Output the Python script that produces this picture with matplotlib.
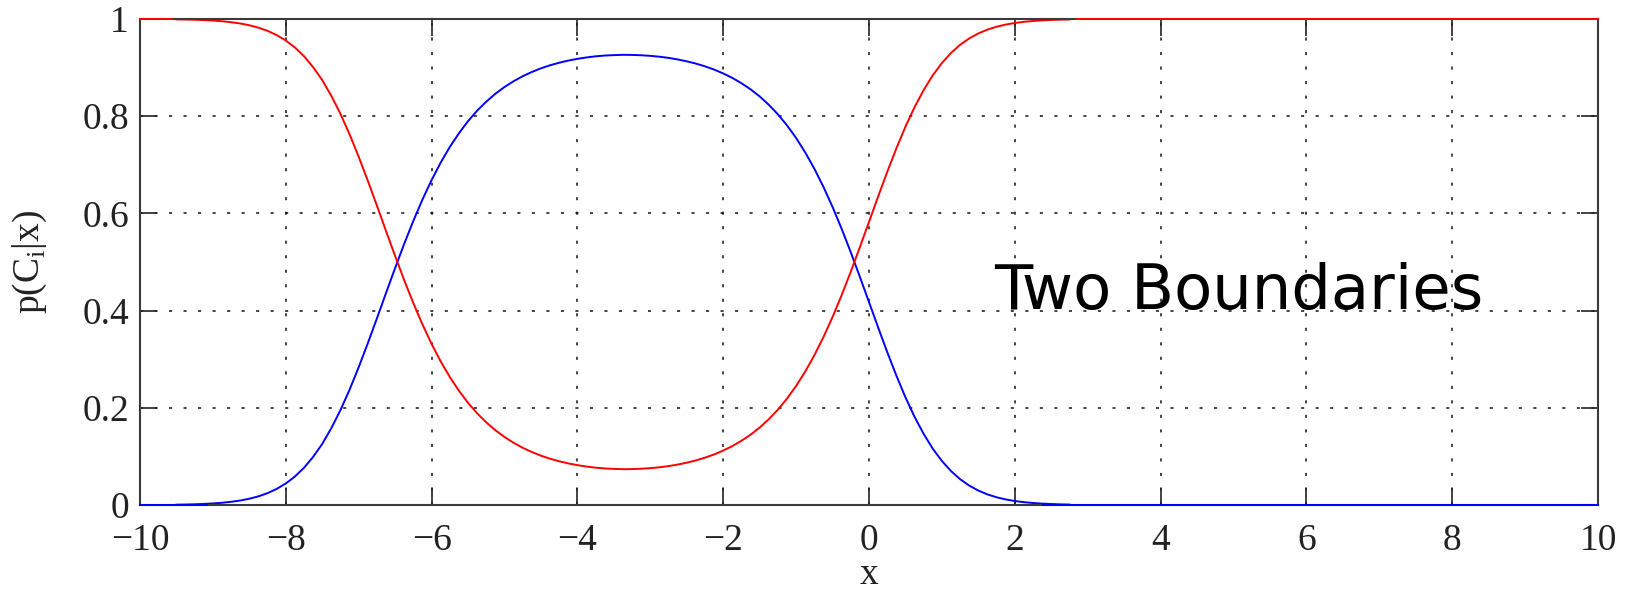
import matplotlib
matplotlib.use("Agg")
import matplotlib.pyplot as plt

# Posterior curves sampled along x
x_vals = [-9.5, -9.375, -9.25, -9.125, -9.0, -8.875, -8.75, -8.625, -8.5, -8.375,
          -8.25, -8.125, -8.0, -7.875, -7.75, -7.625, -7.5, -7.375, -7.25, -7.125,
          -7.0, -6.875, -6.75, -6.625, -6.5, -6.375, -6.25, -6.125, -6.0, -5.875,
          -5.75, -5.625, -5.5, -5.375, -5.25, -5.125, -5.0, -4.875, -4.75, -4.625,
          -4.5, -4.375, -4.25, -4.125, -4.0, -3.875, -3.75, -3.625, -3.5, -3.375,
          -3.25, -3.125, -3.0, -2.875, -2.75, -2.625, -2.5, -2.375, -2.25, -2.125,
          -2.0, -1.875, -1.75, -1.625, -1.5, -1.375, -1.25, -1.125, -1.0, -0.875,
          -0.75, -0.625, -0.5, -0.375, -0.25, -0.125, 0.0, 0.125, 0.25, 0.375,
          0.5, 0.625, 0.75, 0.875, 1.0, 1.125, 1.25, 1.375, 1.5, 1.625,
          1.75, 1.875, 2.0, 2.125, 2.25, 2.375, 2.5, 2.625, 2.75]
p_blue = [0.0007, 0.0010, 0.0015, 0.0022, 0.0032, 0.0046, 0.0066, 0.0092, 0.0129, 0.0178,
          0.0244, 0.0331, 0.0443, 0.0586, 0.0766, 0.0991, 0.1257, 0.1583, 0.1953, 0.2373,
          0.2835, 0.3328, 0.3841, 0.4363, 0.4878, 0.5377, 0.5848, 0.6286, 0.6686, 0.7046,
          0.7367, 0.7649, 0.7898, 0.8114, 0.8300, 0.8462, 0.8601, 0.8720, 0.8823, 0.8910,
          0.8985, 0.9048, 0.9100, 0.9144, 0.9180, 0.9209, 0.9232, 0.9248, 0.9257, 0.9263,
          0.9261, 0.9254, 0.9242, 0.9224, 0.9200, 0.9168, 0.9129, 0.9083, 0.9026, 0.8960,
          0.8880, 0.8788, 0.8679, 0.8554, 0.8407, 0.8236, 0.8039, 0.7812, 0.7552, 0.7255,
          0.6921, 0.6546, 0.6133, 0.5682, 0.5200, 0.4694, 0.4175, 0.3655, 0.3147, 0.2664,
          0.2216, 0.1814, 0.1462, 0.1158, 0.0906, 0.0698, 0.0531, 0.0399, 0.0297, 0.0218,
          0.0159, 0.0115, 0.0082, 0.0058, 0.0041, 0.0028, 0.0020, 0.0013, 0.0009]
p_red = [0.9993, 0.9990, 0.9985, 0.9978, 0.9968, 0.9954, 0.9934, 0.9908, 0.9871, 0.9822,
         0.9756, 0.9669, 0.9557, 0.9414, 0.9234, 0.9009, 0.8743, 0.8417, 0.8047, 0.7627,
         0.7165, 0.6672, 0.6159, 0.5637, 0.5122, 0.4623, 0.4152, 0.3714, 0.3314, 0.2954,
         0.2633, 0.2351, 0.2102, 0.1886, 0.1700, 0.1538, 0.1399, 0.1280, 0.1177, 0.1090,
         0.1015, 0.0952, 0.0900, 0.0856, 0.0820, 0.0791, 0.0768, 0.0752, 0.0743, 0.0737,
         0.0739, 0.0746, 0.0758, 0.0776, 0.0800, 0.0832, 0.0871, 0.0917, 0.0974, 0.1040,
         0.1120, 0.1212, 0.1321, 0.1446, 0.1593, 0.1764, 0.1961, 0.2188, 0.2448, 0.2745,
         0.3079, 0.3454, 0.3867, 0.4318, 0.4800, 0.5306, 0.5825, 0.6345, 0.6853, 0.7336,
         0.7784, 0.8186, 0.8538, 0.8842, 0.9094, 0.9302, 0.9469, 0.9601, 0.9703, 0.9782,
         0.9841, 0.9885, 0.9918, 0.9942, 0.9959, 0.9972, 0.9980, 0.9987, 0.9991]

# Saturated tails of each posterior
blue_tail_left_x = [-10.0, -9.08]
blue_tail_right_x = [2.39, 10.0]
blue_tail_y = [0.0, 0.0]
red_tail_left_x = [-10.0, -9.56]
red_tail_right_x = [2.85, 10.0]
red_tail_y = [1.0, 1.0]

x_ticks = [-10, -8, -6, -4, -2, 0, 2, 4, 6, 8, 10]
y_ticks = [0, 0.2, 0.4, 0.6, 0.8, 1]
y_tick_labels = ["0", "0.2", "0.4", "0.6", "0.8", "1"]

plt.rcParams["font.family"] = ["Liberation Serif", "DejaVu Serif"]
plt.rcParams["mathtext.fontset"] = "custom"
plt.rcParams["mathtext.rm"] = "Liberation Serif"
plt.rcParams["axes.unicode_minus"] = True

fig = plt.figure(figsize=(16.34, 5.94), dpi=100)
ax = fig.add_axes([140 / 1634, 1 - 505 / 594, 1458 / 1634, 486 / 594])

spine_color = "#3a3a3a"
blue = "#0000ff"
red = "#ff0000"

ax.plot(x_vals, p_blue, color=blue, lw=1.4, zorder=2)
ax.plot(x_vals, p_red, color=red, lw=1.4, zorder=2)
for tx in (blue_tail_left_x, blue_tail_right_x):
    ax.plot(tx, blue_tail_y, color=blue, lw=1.4, zorder=3, clip_on=False)
for tx in (red_tail_left_x, red_tail_right_x):
    ax.plot(tx, red_tail_y, color=red, lw=1.4, zorder=3, clip_on=False)

ax.set_xlim(-10, 10)
ax.set_ylim(0, 1)
ax.set_xticks(x_ticks)
ax.set_yticks(y_ticks)
ax.set_yticklabels(y_tick_labels)

ax.grid(True, color="#111111", lw=1.1, linestyle=(0, (2.0, 7.5)), zorder=1)
ax.set_axisbelow(True)

for sp in ax.spines.values():
    sp.set_color(spine_color)
    sp.set_linewidth(1.5)
    sp.set_zorder(2.5)

ax.tick_params(axis="both", direction="in", length=12, width=1.2, color="#222222",
               top=True, right=True, labelsize=27, labelcolor="#222222")
ax.tick_params(axis="x", pad=13)
ax.tick_params(axis="y", pad=8)

ax.set_xlabel("x", fontsize=27, color="#222222", labelpad=0)
ax.set_ylabel(r"p(C$_{\mathrm{i}}$|x)", fontsize=27, color="#222222", labelpad=24)

ax.text(1.72, 0.404, "Two Boundaries", fontsize=45, family=["DejaVu Sans"],
        color="black", ha="left", va="baseline", zorder=4)

fig.savefig("out.png", dpi=100)
